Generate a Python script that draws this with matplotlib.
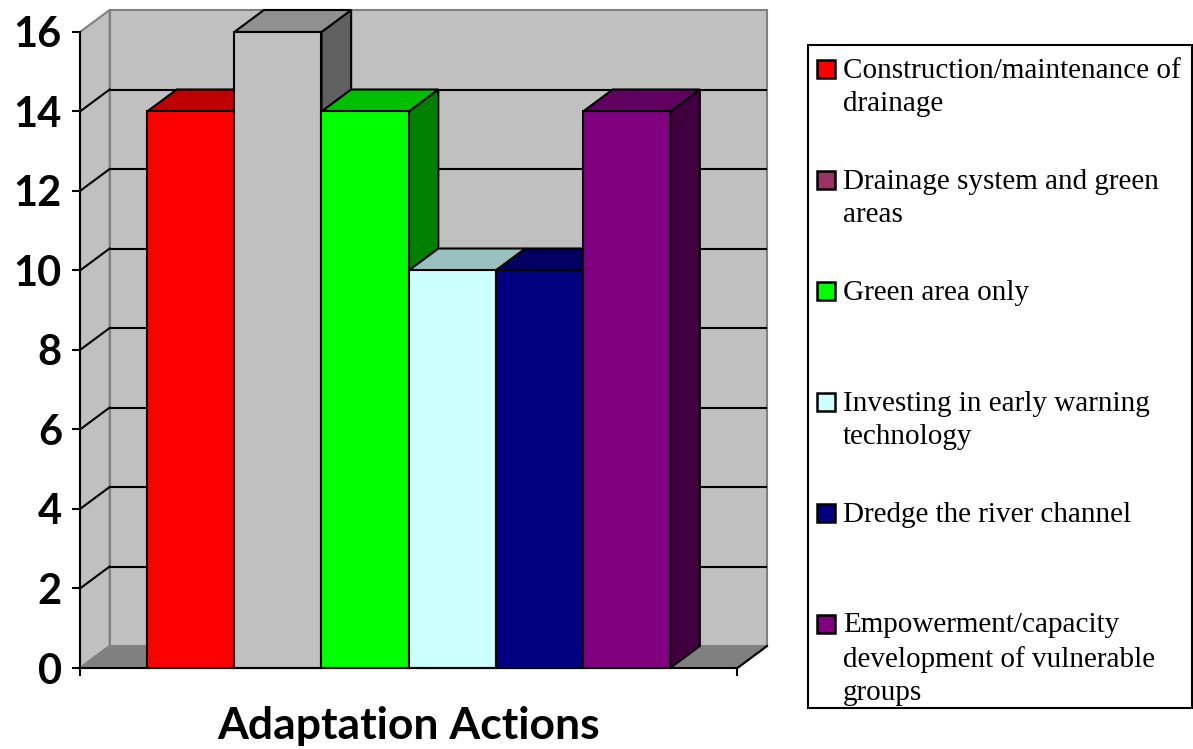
import matplotlib
matplotlib.use("Agg")
import matplotlib.pyplot as plt
import matplotlib.colors as mcolors
from matplotlib.patches import Polygon, Rectangle
from matplotlib.transforms import blended_transform_factory

# data
actions = ["Construction/maintenance of drainage",
           "Drainage system and green areas",
           "Green area only",
           "Investing in early warning technology",
           "Dredge the river channel",
           "Empowerment/capacity development of vulnerable groups"]
counts = [14, 16, 14, 10, 10, 14]
bar_colors = ["#FF0000", "#C0C0C0", "#00FF00", "#CCFFFF", "#000080", "#800080"]
legend_colors = ["#FF0000", "#993366", "#00FF00", "#CCFFFF", "#000080", "#800080"]
legend_labels = ["Construction/maintenance of\ndrainage",
                 "Drainage system and green\nareas",
                 "Green area only",
                 "Investing in early warning\ntechnology",
                 "Dredge the river channel",
                 "Empowerment/capacity\ndevelopment of vulnerable\ngroups"]
yticks = list(range(0, 17, 2))
xlabel = "Adaptation Actions"


def shade(c, f):
    r, g, b = mcolors.to_rgb(c)
    return (r * f, g * f, b * f)


W, H = 1193, 749
fig = plt.figure(figsize=(W / 100, H / 100), dpi=100)
ax = fig.add_axes([80 / W, (H - 668) / H, (767 - 80) / W, (668 - 10) / H])

n = len(counts)
gap = 0.77     # space between wall and first/last bar
dx, dy = 0.34, 0.553   # depth offset of the 3d effect
ymax = yticks[-1]
ax.set_xlim(-gap, n + gap + dx)
ax.set_ylim(0, ymax + dy)

x0, x1 = -gap, n + gap
wall = "#C0C0C0"
edge_grey = "#808080"
lw = 1.5

# back wall
ax.add_patch(Polygon([(x0 + dx, dy), (x1 + dx, dy), (x1 + dx, ymax + dy), (x0 + dx, ymax + dy)],
                     closed=True, fc=wall, ec=edge_grey, lw=lw, zorder=1, clip_on=False))
# left side wall
ax.add_patch(Polygon([(x0, 0), (x0 + dx, dy), (x0 + dx, ymax + dy), (x0, ymax)],
                     closed=True, fc=wall, ec=edge_grey, lw=lw, zorder=1, clip_on=False))
# floor
ax.add_patch(Polygon([(x0, 0), (x1, 0), (x1 + dx, dy), (x0 + dx, dy)],
                     closed=True, fc="#808080", ec=edge_grey, lw=lw, zorder=1, clip_on=False))
ax.plot([x1, x1 + dx], [0, dy], color="black", lw=lw, zorder=2, clip_on=False)

# gridlines on the walls
for v in yticks[1:-1]:
    ax.plot([x0 + dx, x1 + dx], [v + dy, v + dy], color="black", lw=lw, zorder=2)
    ax.plot([x0, x0 + dx], [v, v + dy], color="black", lw=lw, zorder=2)

# 3d bars, left to right
for i, (v, c) in enumerate(zip(counts, bar_colors)):
    z = 3 + i
    side = [(i + 1, 0), (i + 1 + dx, dy), (i + 1 + dx, v + dy), (i + 1, v)]
    top = [(i, v), (i + 1, v), (i + 1 + dx, v + dy), (i + dx, v + dy)]
    front = [(i, 0), (i + 1, 0), (i + 1, v), (i, v)]
    ax.add_patch(Polygon(side, closed=True, fc=shade(c, 0.5), ec="black", lw=lw,
                         zorder=z, clip_on=False))
    ax.add_patch(Polygon(top, closed=True, fc=shade(c, 0.75), ec="black", lw=lw,
                         zorder=z, clip_on=False))
    ax.add_patch(Polygon(front, closed=True, fc=c, ec="black", lw=lw,
                         zorder=z, clip_on=False))

# axes
for s in ["top", "right"]:
    ax.spines[s].set_visible(False)
ax.spines["left"].set_bounds(0, ymax)
ax.spines["bottom"].set_bounds(x0, x1)
for s in ["left", "bottom"]:
    ax.spines[s].set_linewidth(lw)
    ax.spines[s].set_zorder(20)
ax.set_yticks(yticks)
ax.set_yticklabels([str(t) for t in yticks], fontfamily="Lato", fontweight="bold", fontsize=30)
ax.set_xticks([x0, x1])
ax.set_xticklabels(["", ""])
ax.tick_params(axis="both", direction="out", length=6, width=lw, color="black")
ax.tick_params(axis="y", pad=7)
ax.patch.set_visible(False)

tr = blended_transform_factory(ax.transData, ax.transAxes)
ax.text((x0 + x1) / 2, -0.088, xlabel, transform=tr, ha="center", va="center",
        fontfamily="Lato", fontweight="bold", fontsize=32)

# legend box, fixed slots like the original
def px(x, y):
    return (x / W, 1 - y / H)

lx, ly = px(808, 708)
fig.add_artist(Rectangle((lx, ly), (1192 - 808) / W, (708 - 45) / H, transform=fig.transFigure,
                         fc="white", ec="black", lw=lw))
for k, (lab, c) in enumerate(zip(legend_labels, legend_colors)):
    base = 78 + k * 110.9
    sx, sy = px(817, base)
    fig.add_artist(Rectangle((sx, sy), 18 / W, 18 / H, transform=fig.transFigure,
                             fc=c, ec="black", lw=1.8))
    tx, ty = px(843, base - 20)
    fig.text(tx, ty, lab, ha="left", va="top", fontfamily="Liberation Serif",
             fontsize=21, linespacing=1.36)

fig.savefig("out.png", dpi=100)
